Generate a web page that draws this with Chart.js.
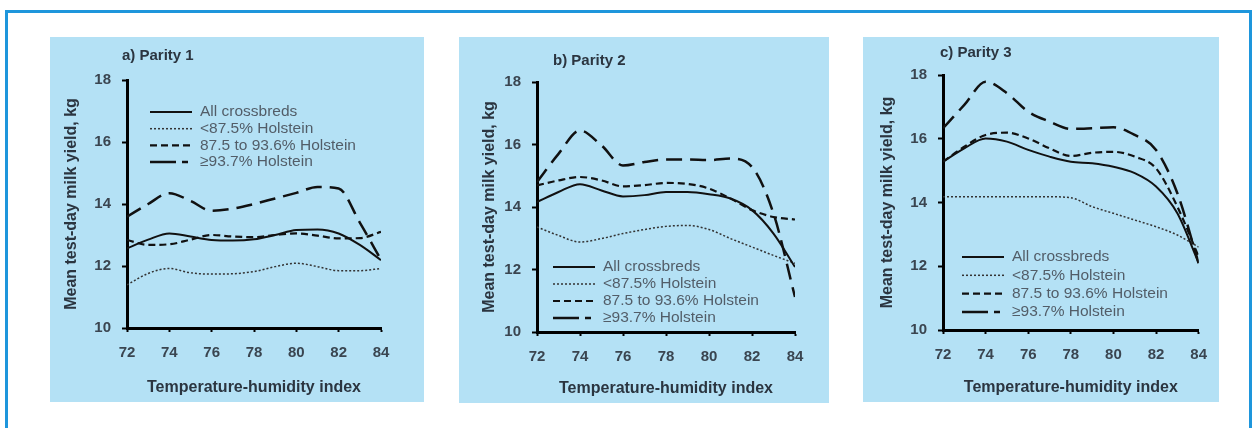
<!DOCTYPE html>
<html>
<head>
<meta charset="utf-8">
<script src="https://cdn.jsdelivr.net/npm/chart.js@4.4.1/dist/chart.umd.min.js"></script>
<style>
  body { margin: 0; background: #fff; width: 1255px; height: 428px; overflow: hidden; position: relative; font-family: "Liberation Sans", Arial, sans-serif; }
  .frame { position: absolute; left: 5px; top: 10px; width: 1247px; height: 500px; border: 3px solid #1e96dc; box-sizing: border-box; }
  .panel { position: absolute; top: 37px; background: #b4e1f5; }
  .panel canvas { position: absolute; left: 0; top: 0; }
  .ptitle { position: absolute; font-weight: bold; font-size: 15px; color: #2b3540; }
</style>
</head>
<body>
<div class="frame"></div>
<div class="panel" id="p1" style="left:50px;width:374px;height:365px;"><canvas id="c1" width="374" height="365"></canvas></div>
<div class="panel" id="p2" style="left:459px;width:370px;height:366px;"><canvas id="c2" width="370" height="366"></canvas></div>
<div class="panel" id="p3" style="left:863px;width:356px;height:365px;"><canvas id="c3" width="356" height="365"></canvas></div>
<div class="ptitle" style="left:122px;top:46px;">a) Parity 1</div>
<div class="ptitle" style="left:553px;top:51px;">b) Parity 2</div>
<div class="ptitle" style="left:940px;top:43px;">c) Parity 3</div>
<script>
// temperature-humidity index
const thi = [72, 73, 74, 75, 76, 77, 78, 79, 80, 81, 82, 83, 84];
const yTicks = [10, 12, 14, 16, 18];
const seriesNames = ['All crossbreds', '<87.5% Holstein', '87.5 to 93.6% Holstein', '\u226593.7% Holstein'];

// parity 1
const p1All  = [12.57, 12.85, 13.05, 12.95, 12.84, 12.82, 12.86, 13.0, 13.16, 13.18, 13.05, 12.68, 12.19];
const p1Low  = [11.39, 11.76, 11.92, 11.78, 11.74, 11.75, 11.82, 11.98, 12.09, 11.98, 11.85, 11.85, 11.92];
const p1Mid  = [12.84, 12.68, 12.7, 12.85, 13.0, 12.95, 12.93, 13.0, 13.05, 12.98, 12.89, 12.9, 13.1];
const p1High = [13.59, 14.0, 14.35, 14.1, 13.78, 13.85, 14.0, 14.18, 14.36, 14.55, 14.5, 13.4, 12.2];

// parity 2
const p2All  = [14.16, 14.48, 14.73, 14.53, 14.34, 14.38, 14.48, 14.48, 14.41, 14.27, 13.9, 13.15, 12.08];
const p2Low  = [13.36, 13.09, 12.88, 12.99, 13.15, 13.28, 13.38, 13.41, 13.28, 12.99, 12.72, 12.45, 12.2];
const p2Mid  = [14.69, 14.85, 14.96, 14.85, 14.66, 14.7, 14.77, 14.74, 14.59, 14.27, 13.9, 13.68, 13.6];
const p2High = [14.8, 15.7, 16.45, 15.97, 15.33, 15.44, 15.52, 15.52, 15.5, 15.55, 15.28, 13.79, 11.12];

// parity 3
const p3All  = [15.28, 15.7, 16.01, 15.91, 15.65, 15.44, 15.28, 15.23, 15.12, 14.92, 14.5, 13.66, 12.1];
const p3Low  = [14.18, 14.18, 14.18, 14.18, 14.18, 14.18, 14.15, 13.87, 13.66, 13.45, 13.24, 12.98, 12.6];
const p3Mid  = [15.28, 15.75, 16.12, 16.19, 16.01, 15.7, 15.46, 15.56, 15.59, 15.44, 15.07, 13.87, 12.3];
const p3High = [16.33, 17.06, 17.79, 17.43, 16.85, 16.54, 16.31, 16.33, 16.36, 16.12, 15.65, 14.29, 12.09];

const FONT = '"Liberation Sans", Arial, sans-serif';

// legend drawn inside the plot, like the printed figure
const inlineLegend = {
  id: 'inlineLegend',
  afterDatasetsDraw(chart, args, opts) {
    const ctx = chart.ctx;
    ctx.save();
    ctx.font = '15.5px ' + FONT;
    ctx.textBaseline = 'middle';
    chart.data.datasets.forEach((ds, i) => {
      const y = opts.y + i * opts.gap;
      ctx.beginPath();
      ctx.setLineDash(ds.legendDash || ds.borderDash || []);
      ctx.lineWidth = ds.borderWidth;
      ctx.strokeStyle = ds.borderColor;
      ctx.moveTo(opts.x, y);
      ctx.lineTo(opts.x + 42, y);
      ctx.stroke();
      ctx.setLineDash([]);
      ctx.fillStyle = '#525d68';
      ctx.fillText(ds.label, opts.x + 50, y);
    });
    ctx.restore();
  }
};

function makeSets(all, low, mid, high) {
  const pts = arr => arr.map((v, i) => ({ x: thi[i], y: v }));
  const base = { pointRadius: 0, cubicInterpolationMode: 'monotone', fill: false };
  return [
    { ...base, label: seriesNames[0], data: pts(all), borderColor: '#111', borderWidth: 2 },
    { ...base, label: seriesNames[1], data: pts(low), borderColor: '#333', borderWidth: 1.5, borderDash: [2, 2] },
    { ...base, label: seriesNames[2], data: pts(mid), borderColor: '#111', borderWidth: 2.2, borderDash: [7, 4] },
    { ...base, label: seriesNames[3], data: pts(high), borderColor: '#111', borderWidth: 2.5, borderDash: [16, 8], legendDash: [26, 6, 6, 100] }
  ];
}

// lay: canvas padding + axis sizes so the plot box lands where the figure has it
function makeChart(id, sets, lay, legend) {
  return new Chart(document.getElementById(id), {
    type: 'line',
    data: { datasets: sets },
    plugins: [inlineLegend],
    options: {
      responsive: false,
      animation: false,
      devicePixelRatio: 1,
      layout: { padding: { left: lay.pl, right: lay.pr, top: lay.pt, bottom: lay.pb } },
      plugins: {
        legend: { display: false },
        tooltip: { enabled: false },
        inlineLegend: legend
      },
      scales: {
        x: {
          type: 'linear', min: 72, max: 84,
          afterFit: s => { s.height = lay.xh; },
          afterBuildTicks: s => { s.ticks = thi.filter(v => v % 2 === 0).map(v => ({ value: v })); },
          ticks: { font: { family: FONT, size: 15, weight: 'bold' }, color: '#3a4550', padding: 12 },
          grid: { drawOnChartArea: false, drawTicks: true, tickLength: 4, tickColor: '#000', tickWidth: 2 },
          border: { color: '#000', width: 3 },
          title: { display: true, text: 'Temperature-humidity index', font: { family: FONT, size: 16, weight: 'bold' }, color: '#2b3540', padding: 0 }
        },
        y: {
          min: 10, max: 18,
          afterFit: s => { s.width = lay.yw; },
          afterBuildTicks: s => { s.ticks = yTicks.map(v => ({ value: v })); },
          ticks: { font: { family: FONT, size: 15, weight: 'bold' }, color: '#3a4550', padding: 11 },
          grid: { drawOnChartArea: false, drawTicks: true, tickLength: 5, tickColor: '#000', tickWidth: 2 },
          border: { color: '#000', width: 3 },
          title: { display: true, text: 'Mean test-day milk yield, kg', font: { family: FONT, size: 16, weight: 'bold' }, color: '#2b3540', padding: 0 }
        }
      }
    }
  });
}

makeChart('c1', makeSets(p1All, p1Low, p1Mid, p1High),
  { pl: 12, yw: 65, pr: 43, pt: 43, pb: 5, xh: 69 },
  { x: 100, y: 75, gap: 16.7 });
makeChart('c2', makeSets(p2All, p2Low, p2Mid, p2High),
  { pl: 21, yw: 57, pr: 34, pt: 45, pb: 5, xh: 66 },
  { x: 94, y: 230, gap: 17 });
makeChart('c3', makeSets(p3All, p3Low, p3Mid, p3High),
  { pl: 15, yw: 65, pr: 20, pt: 38, pb: 5, xh: 67 },
  { x: 99, y: 220, gap: 18.3 });
</script>
</body>
</html>
